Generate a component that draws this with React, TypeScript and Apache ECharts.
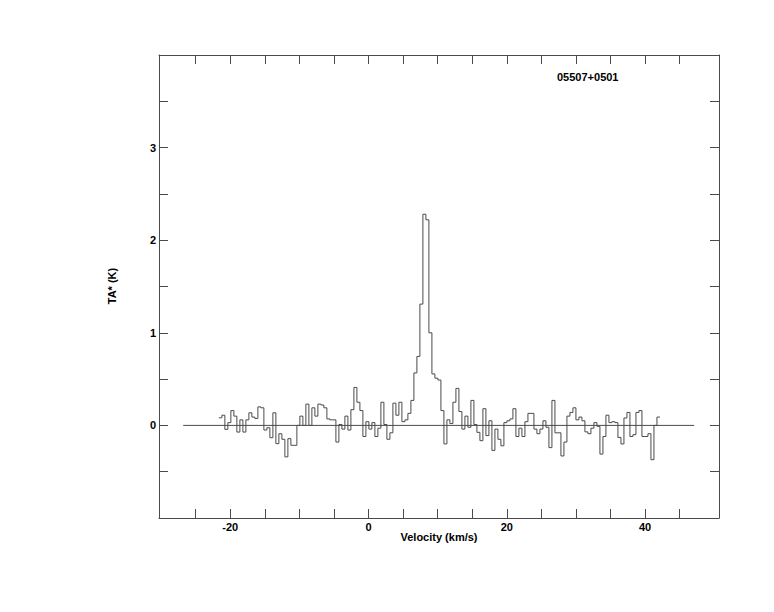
import React, { useEffect, useRef } from "react";
import * as echarts from "echarts";

// Spectrum: channel grid (left edge of first channel, channel width in km/s)
const firstChannelEdge = -21.64;
const channelWidth = 0.434;
// Antenna temperature TA* (K) per channel
const ta = [
  0.082, 0.11, -0.043, 0.03, 0.16, 0.1, -0.072, 0.06, -0.072, 0.06,
  0.136, 0.09, 0.075, 0.2, 0.19, -0.05, -0.025, -0.133, 0.136, -0.197,
  -0.09, -0.15, -0.34, -0.143, -0.215, -0.215, 0.0, 0.1, 0.0, 0.23,
  0.0, 0.19, 0.1, 0.23, 0.22, 0.19, 0.07, 0.06, 0.06, -0.18,
  0.01, -0.04, 0.1, -0.05, 0.17, 0.41, 0.25, 0.16, -0.12, 0.04,
  -0.04, 0.03, -0.12, -0.03, 0.25, 0.01, -0.15, -0.08, 0.24, 0.11,
  0.25, 0.04, 0.06, 0.13, 0.27, 0.567, 0.745, 1.31, 2.28, 2.22,
  1.0, 0.556, 0.51, 0.49, 0.16, -0.2, 0.06, 0.02, 0.25, 0.4,
  0.15, -0.04, 0.1, -0.02, 0.27, 0.01, -0.075, -0.165, 0.18, -0.11,
  0.05, -0.27, -0.04, -0.15, -0.22, 0.03, 0.05, 0.07, 0.18, -0.12,
  -0.03, -0.12, 0.04, 0.13, 0.13, -0.04, -0.09, -0.04, 0.05, -0.02,
  -0.24, 0.27, -0.08, -0.08, -0.33, -0.18, 0.1, 0.14, 0.19, 0.06,
  0.09, 0.05, -0.07, -0.09, -0.03, 0.03, -0.01, -0.31, -0.12, 0.11,
  0.03, 0.04, 0.03, -0.13, -0.2, 0.08, 0.14, -0.12, -0.1, 0.14,
  0.16, -0.12, -0.12, -0.09, -0.37, 0.0, 0.09,
];
// Zero baseline extent (km/s)
const baselineX = [-26.8, 47.1];
const baselineY = [0, 0];

// Axes
const xMin = -30.3;
const xMax = 50.7;
const yMin = -1;
const yMax = 4;
const xTickValues = [-25, -20, -15, -10, -5, 0, 5, 10, 15, 20, 25, 30, 35, 40, 45];
const xLabelValues = [-20, 0, 20, 40];
const yLabelValues = [0, 1, 2, 3];

const sourceName = "05507+0501";
const xTitle = "Velocity (km/s)";
const yTitle = "TA* (K)";

const INK = "#4a4a4a";
const FONT = "'Liberation Sans', Arial, Helvetica, sans-serif";

export default function App() {
  const ref = useRef<HTMLDivElement>(null);

  useEffect(() => {
    if (!ref.current) return;
    const chart = echarts.init(ref.current, null, { renderer: "svg" });

    const pts: number[][] = ta.map((t, i) => [firstChannelEdge + i * channelWidth, t]);
    pts.push([firstChannelEdge + ta.length * channelWidth, ta[ta.length - 1]]);

    const baseAxis = {
      type: "value" as const,
      splitLine: { show: false },
      axisLine: { show: true, onZero: false, lineStyle: { color: INK, width: 1 } },
    };

    chart.setOption({
      animation: false,
      backgroundColor: "#ffffff",
      grid: { left: 159, right: 55, top: 55, bottom: 94, containLabel: false },
      xAxis: [
        {
          ...baseAxis,
          position: "bottom",
          min: xMin,
          max: xMax,
          axisTick: { show: true, inside: true, length: 9, customValues: xTickValues, lineStyle: { color: INK } },
          axisLabel: {
            show: true,
            customValues: xLabelValues,
            margin: 3,
            color: "#000",
            fontFamily: FONT,
            fontWeight: "bold",
            fontSize: 11,
          },
        },
        {
          ...baseAxis,
          position: "top",
          min: xMin,
          max: xMax,
          axisTick: { show: true, inside: true, length: 9, customValues: xTickValues, lineStyle: { color: INK } },
          axisLabel: { show: false },
        },
      ],
      yAxis: [
        {
          ...baseAxis,
          position: "left",
          min: yMin,
          max: yMax,
          interval: 0.5,
          axisTick: { show: true, inside: true, length: 9, lineStyle: { color: INK } },
          axisLabel: {
            show: true,
            customValues: yLabelValues,
            margin: 3,
            color: "#000",
            fontFamily: FONT,
            fontWeight: "bold",
            fontSize: 11,
          },
        },
        {
          ...baseAxis,
          position: "right",
          min: yMin,
          max: yMax,
          interval: 0.5,
          axisTick: { show: true, inside: true, length: 9, lineStyle: { color: INK } },
          axisLabel: { show: false },
        },
      ],
      graphic: [
        {
          type: "text",
          x: 557,
          y: 77,
          style: {
            text: sourceName,
            fill: "#000",
            font: `bold 11px ${FONT}`,
            align: "left",
            verticalAlign: "middle",
          },
        },
        {
          type: "text",
          x: 439,
          y: 537,
          style: {
            text: xTitle,
            fill: "#000",
            font: `bold 11px ${FONT}`,
            align: "center",
            verticalAlign: "middle",
          },
        },
        {
          type: "text",
          x: 112,
          y: 286,
          rotation: Math.PI / 2,
          style: {
            text: yTitle,
            fill: "#000",
            font: `bold 11px ${FONT}`,
            align: "center",
            verticalAlign: "middle",
          },
        },
      ],
      series: [
        {
          type: "line",
          xAxisIndex: 0,
          yAxisIndex: 0,
          data: baselineX.map((x, i) => [x, baselineY[i]]),
          symbol: "none",
          lineStyle: { color: INK, width: 1 },
          silent: true,
        },
        {
          type: "line",
          xAxisIndex: 0,
          yAxisIndex: 0,
          data: pts,
          step: "end",
          symbol: "none",
          lineStyle: { color: INK, width: 1 },
          silent: true,
        },
      ],
    });

    return () => chart.dispose();
  }, []);

  return (
    <div
      ref={ref}
      style={{ position: "fixed", left: 0, top: 0, width: 774, height: 612, background: "#fff" }}
    />
  );
}
